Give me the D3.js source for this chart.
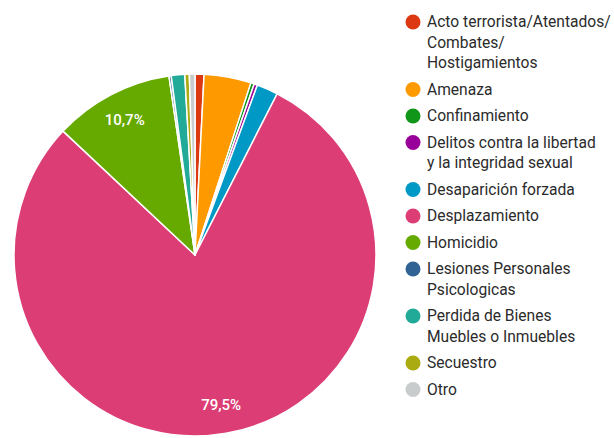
<!DOCTYPE html>
<html>
<head>
<meta charset="utf-8">
<script src="https://cdn.jsdelivr.net/npm/d3@7"></script>
<style>
  html, body { margin: 0; padding: 0; background: #fff; }
  svg { display: block; }
  text { font-family: Roboto, "Liberation Sans", Arial, sans-serif; }
</style>
</head>
<body>
<svg id="chart" width="614" height="438"></svg>
<script>
// Category names (legend lines split where they wrap)
const categories = [
  "Acto terrorista/Atentados/\nCombates/\nHostigamientos",
  "Amenaza",
  "Confinamiento",
  "Delitos contra la libertad\ny la integridad sexual",
  "Desaparición forzada",
  "Desplazamiento",
  "Homicidio",
  "Lesiones Personales\nPsicologicas",
  "Perdida de Bienes\nMuebles o Inmuebles",
  "Secuestro",
  "Otro"
];
// Share of each category, in percent
const values = [0.8, 4.2, 0.3, 0.3, 1.9, 79.5, 10.7, 0.2, 1.2, 0.4, 0.5];
const colors = ["#dc3912", "#ff9900", "#109618", "#990099", "#0099c6", "#dc3d75",
                "#66aa00", "#316395", "#22aa99", "#aaaa11", "#c8cccc"];
// Slices that carry a percentage label
const labelThreshold = 5;

const svg = d3.select("#chart");
const cx = 195, cy = 255, radius = 181;

const data = categories.map((c, i) => ({ name: c, value: values[i], color: colors[i] }));

const pie = d3.pie().value(d => d.value).sort(null);
const arcs = pie(data);
const arc = d3.arc().innerRadius(0).outerRadius(radius);
const labelArc = d3.arc().innerRadius(radius * 0.84).outerRadius(radius * 0.84);

const g = svg.append("g").attr("transform", `translate(${cx},${cy})`);

g.selectAll("path.slice")
  .data(arcs)
  .join("path")
  .attr("class", "slice")
  .attr("d", arc)
  .attr("fill", d => d.data.color)
  .attr("stroke", "#fff")
  .attr("stroke-width", 1.5)
  .attr("stroke-linejoin", "round");

const fmt = v => d3.format(".1f")(v).replace(".", ",") + "%";

g.selectAll("text.pct")
  .data(arcs.filter(d => d.data.value >= labelThreshold))
  .join("text")
  .attr("class", "pct")
  .attr("transform", d => `translate(${labelArc.centroid(d)})`)
  .attr("text-anchor", "middle")
  .attr("dominant-baseline", "central")
  .attr("fill", "#fff")
  .attr("font-size", 15)
  .attr("font-weight", 500)
  .text(d => fmt(d.data.value));

// Legend
const legend = svg.append("g").attr("transform", "translate(413,22)");
const lineH = 20.5, itemGap = 26.5;
let y = 0;
data.forEach(d => {
  const lines = d.name.split("\n");
  const item = legend.append("g").attr("transform", `translate(0,${y})`);
  item.append("circle").attr("r", 7.5).attr("fill", d.color);
  const t = item.append("text")
    .attr("x", 14)
    .attr("fill", "#2b2b2b")
    .attr("font-size", 15.6);
  lines.forEach((ln, k) => {
    t.append("tspan").attr("x", 14).attr("y", k * lineH).attr("dy", "0.35em").text(ln);
  });
  y += (lines.length - 1) * lineH + itemGap;
});
</script>
</body>
</html>
